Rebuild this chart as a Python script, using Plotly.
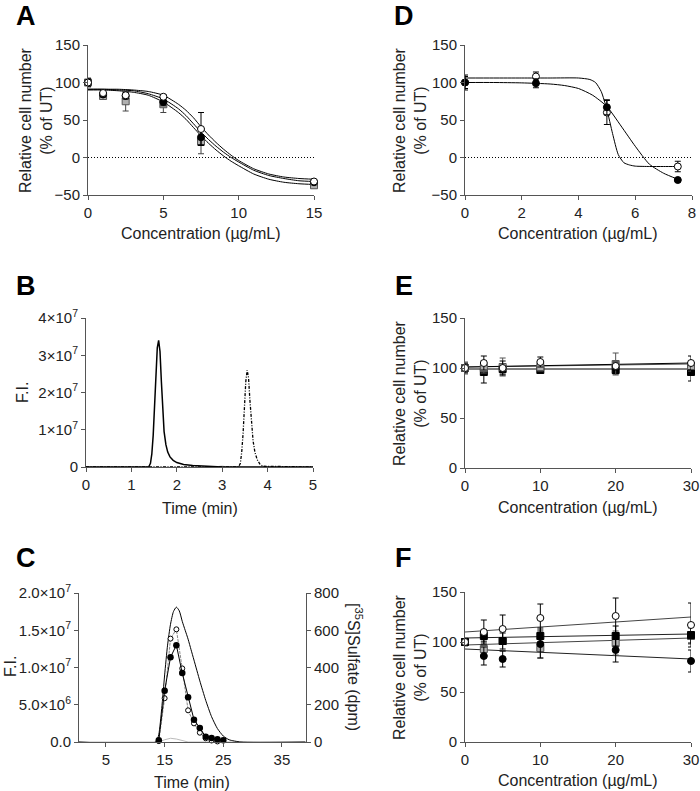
import plotly.graph_objects as go

W, H = 700, 791
FONT = "Liberation Sans, Arial, sans-serif"

# ---------------- Panel A ----------------
a_conc = [0, 1, 2.5, 5, 7.5, 15]
a_black = [100, 84, 82, 74, 27, -33]
a_black_err = [5, 3, 4, 5, 10, 3]
a_open = [100, 86, 83, 81, 38, -32]
a_open_err = [4, 3, 3, 3, 22, 3]
a_gray = [100, 82, 75, 71, 21, -37]
a_gray_err = [6, 4, 13, 11, 16, 3]
a_fit_x = [0, 1, 2, 3, 4, 5, 6, 6.5, 7, 7.5, 8, 8.5, 9, 9.5, 10, 11, 12, 13, 14, 15]
a_fit_open = [91, 91, 91, 90, 88, 83, 71, 63, 53, 41, 30, 20, 11, 3, -4, -15, -22, -26, -28, -29]
a_fit_black = [91, 91, 90, 89, 85, 78, 65, 56, 45, 34, 24, 15, 7, 0, -6, -17, -24, -28, -31, -32]
a_fit_gray = [90, 90, 89, 87, 83, 74, 60, 51, 40, 29, 19, 10, 2, -5, -11, -22, -29, -33, -35, -36]

# ---------------- Panel D ----------------
d_conc = [0, 2.5, 5, 7.5]
d_black = [100, 99, 67, -30]
d_black_err = [10, 6, 10, 2]
d_open = [100, 108, 60, -12]
d_open_err = [8, 6, 16, 7]
d_fit_black_x = [0, 1, 2, 3, 3.5, 4, 4.5, 5, 5.5, 6, 6.5, 7, 7.5]
d_fit_black = [100, 100, 99.5, 98, 96, 92, 83, 68, 42, 15, -9, -21, -29]
d_fit_open_x = [0, 1, 2, 3, 4, 4.4, 4.6, 4.8, 5.0, 5.2, 5.4, 5.6, 5.8, 6.0, 6.5, 7, 7.5]
d_fit_open = [106, 106, 106, 106, 106, 104, 100, 88, 64, 32, 4, -7, -10, -11.5, -12, -12, -12]

# ---------------- Panel B ----------------
b_time1 = [0, 1.38, 1.42, 1.45, 1.48, 1.51, 1.54, 1.57, 1.60, 1.63, 1.66, 1.69, 1.72,
           1.76, 1.80, 1.85, 1.92, 2.0, 2.15, 2.35, 2.6, 3.0, 5.0]
b_fi1 = [0, 0, 0.1e7, 0.35e7, 0.85e7, 1.6e7, 2.5e7, 3.2e7, 3.4e7, 3.1e7, 2.3e7, 1.5e7, 0.95e7,
         0.6e7, 0.4e7, 0.27e7, 0.18e7, 0.12e7, 0.07e7, 0.04e7, 0.02e7, 0, 0]
b_time2 = [0, 3.36, 3.40, 3.43, 3.46, 3.49, 3.52, 3.55, 3.58, 3.61, 3.64, 3.68, 3.72, 3.77, 3.83, 3.9, 5]
b_fi2 = [0, 0, 0.1e7, 0.4e7, 0.9e7, 1.6e7, 2.3e7, 2.6e7, 2.4e7, 1.8e7, 1.2e7, 0.7e7, 0.4e7,
         0.2e7, 0.08e7, 0.02e7, 0]
b_time3 = [0, 2.25, 2.38, 2.5, 2.85, 3.0, 3.1, 5]
b_fi3 = [0, 0, 0.05e7, 0, 0, 0.03e7, 0, 0]

# ---------------- Panel C ----------------
c_time = [0.4, 13.5, 14.0, 14.5, 15, 15.5, 16, 16.5, 17, 17.5, 18, 18.5, 19, 19.5, 20,
          21, 22, 23, 24, 25, 26, 28, 39]
c_fi = [0, 0, 0.1e7, 0.45e7, 0.9e7, 1.3e7, 1.58e7, 1.75e7, 1.81e7, 1.76e7, 1.62e7, 1.5e7,
        1.38e7, 1.24e7, 1.1e7, 0.82e7, 0.56e7, 0.34e7, 0.18e7, 0.08e7, 0.03e7, 0, 0]
c_time_faint = [0.4, 14, 15, 16, 17, 18, 19, 39]
c_fi_faint = [0, 0, 0.03e7, 0.05e7, 0.04e7, 0.02e7, 0, 0]
c_frac_filled = [14, 15, 16, 17, 18, 19, 20, 21, 22, 23, 24, 25]
c_dpm_filled = [10, 275, 455, 520, 370, 240, 120, 75, 28, 22, 15, 10]
c_frac_open = [14, 15, 16, 17, 18, 19, 20, 21, 22, 23, 24]
c_dpm_open = [5, 235, 555, 605, 395, 170, 100, 50, 20, 8, 3]

# ---------------- Panel E ----------------
e_conc = [0, 2.5, 5, 10, 20, 30]
e_open = [100, 105, 100, 106, 102, 105]
e_open_err = [4, 7, 7, 5, 4, 7]
e_bsq = [100, 96, 99, 98, 98, 96]
e_bsq_err = [5, 11, 5, 3, 4, 9]
e_gsq = [100, 100, 101, 101, 104, 102]
e_gsq_err = [6, 5, 9, 4, 11, 5]
e_fit_x = [0, 30]
e_fit_open = [101, 105]
e_fit_gray = [101, 104]
e_fit_black = [99, 99]

# ---------------- Panel F ----------------
f_conc = [0, 2.5, 5, 10, 20, 30]
f_open = [100, 110, 113, 124, 126, 117]
f_open_err = [3, 12, 14, 14, 18, 22]
f_bsq = [100, 106, 101, 106, 106, 107]
f_bsq_err = [3, 6, 8, 8, 10, 8]
f_gsq = [100, 93, 101, 94, 99, 106]
f_gsq_err = [4, 8, 10, 10, 12, 8]
f_bci = [100, 86, 83, 98, 92, 81]
f_bci_err = [3, 9, 8, 14, 12, 11]
f_fit_x = [0, 30]
f_fit_open = [110, 125]
f_fit_bsq = [104, 108]
f_fit_gsq = [97, 104]
f_fit_bci = [93, 83]


def xd(x0, x1):
    return [x0 / W, x1 / W]


def yd(top, bottom):
    return [1 - bottom / H, 1 - top / H]


fig = go.Figure()

BLACK_M = dict(color="black", size=7, line=dict(color="black", width=1), symbol="circle")
OPEN_M = dict(color="white", size=7, line=dict(color="black", width=1), symbol="circle")
GRAY_M = dict(color="#b0b0b0", size=7, line=dict(color="#555555", width=1), symbol="square")
BSQ_M = dict(color="black", size=7, line=dict(color="black", width=1), symbol="square")


def line(x, y, xa, ya, color="black", width=1, dash="solid", shape="spline"):
    fig.add_trace(go.Scatter(x=x, y=y, mode="lines", xaxis=xa, yaxis=ya,
                             line=dict(color=color, width=width, dash=dash, shape=shape,
                                       smoothing=0.6 if shape == "spline" else None),
                             showlegend=False, hoverinfo="skip", cliponaxis=False))


def pts(x, y, err, xa, ya, marker, ecolor="black"):
    fig.add_trace(go.Scatter(x=x, y=y, mode="markers", xaxis=xa, yaxis=ya, marker=marker,
                             error_y=dict(type="data", array=err, visible=True, thickness=1,
                                          width=3, color=ecolor) if err is not None else None,
                             showlegend=False, cliponaxis=False))


# Panel A (x, y)
line(a_fit_x, a_fit_open, "x", "y")
line(a_fit_x, a_fit_black, "x", "y")
line(a_fit_x, a_fit_gray, "x", "y")
pts(a_conc, a_gray, a_gray_err, "x", "y", GRAY_M, "#444444")
pts(a_conc, a_black, a_black_err, "x", "y", BLACK_M)
pts(a_conc, a_open, a_open_err, "x", "y", OPEN_M)

# Panel D (x2, y2)
line(d_fit_black_x, d_fit_black, "x2", "y2")
line(d_fit_open_x, d_fit_open, "x2", "y2")
pts(d_conc, d_open, d_open_err, "x2", "y2", OPEN_M)
pts(d_conc, d_black, d_black_err, "x2", "y2", BLACK_M)

# Panel B (x3, y3)
line(b_time3, b_fi3, "x3", "y3", color="#cccccc", width=1, shape="linear")
line(b_time2, b_fi2, "x3", "y3", color="black", width=1.3, dash="3px,1.5px,1px,1.5px", shape="linear")
line(b_time1, b_fi1, "x3", "y3", color="black", width=1.5, shape="linear")

# Panel E (x4, y4)
line(e_fit_x, e_fit_black, "x4", "y4", shape="linear")
line(e_fit_x, e_fit_gray, "x4", "y4", color="#555555", shape="linear")
line(e_fit_x, e_fit_open, "x4", "y4", shape="linear")
pts(e_conc, e_bsq, e_bsq_err, "x4", "y4", BSQ_M)
pts(e_conc, e_gsq, e_gsq_err, "x4", "y4", GRAY_M, "#555555")
pts(e_conc, e_open, e_open_err, "x4", "y4", OPEN_M)

# Panel C (x5, y5 left, y6 right)
line(c_time_faint, c_fi_faint, "x5", "y5", color="#bbbbbb", width=1, shape="linear")
line(c_time, c_fi, "x5", "y5", color="black", width=1, shape="spline")
fig.add_trace(go.Scatter(x=c_frac_open, y=c_dpm_open, mode="lines+markers", xaxis="x5", yaxis="y6",
                         line=dict(color="#888888", width=1, dash="3px,1px"),
                         marker=dict(color="white", size=5, line=dict(color="black", width=1)),
                         showlegend=False, cliponaxis=False))
fig.add_trace(go.Scatter(x=c_frac_filled, y=c_dpm_filled, mode="lines+markers", xaxis="x5", yaxis="y6",
                         line=dict(color="black", width=1),
                         marker=dict(color="black", size=6.5),
                         showlegend=False, cliponaxis=False))

# Panel F (x6, y7)
line(f_fit_x, f_fit_open, "x6", "y7", color="#444444", shape="linear")
line(f_fit_x, f_fit_bsq, "x6", "y7", color="#222222", shape="linear")
line(f_fit_x, f_fit_gsq, "x6", "y7", color="#444444", shape="linear")
line(f_fit_x, f_fit_bci, "x6", "y7", color="#222222", shape="linear")
pts(f_conc, f_gsq, f_gsq_err, "x6", "y7", GRAY_M, "#555555")
pts(f_conc, f_bsq, f_bsq_err, "x6", "y7", BSQ_M)
pts(f_conc, f_bci, f_bci_err, "x6", "y7", BLACK_M)
pts(f_conc, f_open, f_open_err, "x6", "y7", OPEN_M)

AX = dict(showline=True, linecolor="#555555", linewidth=1, ticks="outside", ticklen=4,
          tickcolor="#555555", tickwidth=1, showgrid=False, zeroline=False, automargin=False,
          tickfont=dict(family=FONT, size=15, color="#222222"))

sup7 = "×10<sup>7</sup>"
fig.update_layout(
    width=W, height=H, margin=dict(l=0, r=0, t=0, b=0),
    paper_bgcolor="white", plot_bgcolor="white",
    font=dict(family=FONT, color="#222222"),
    xaxis=dict(AX, domain=xd(88, 314), anchor="y", range=[0, 15], tickvals=[0, 5, 10, 15]),
    yaxis=dict(AX, domain=yd(45, 195), anchor="x", range=[-50, 150], tickvals=[-50, 0, 50, 100, 150]),
    xaxis2=dict(AX, domain=xd(465, 692), anchor="y2", range=[0, 8], tickvals=[0, 2, 4, 6, 8]),
    yaxis2=dict(AX, domain=yd(45, 195), anchor="x2", range=[-50, 150], tickvals=[-50, 0, 50, 100, 150]),
    xaxis3=dict(AX, domain=xd(86, 313), anchor="y3", range=[0, 5], tickvals=[0, 1, 2, 3, 4, 5]),
    yaxis3=dict(AX, domain=yd(318, 467), anchor="x3", range=[0, 4e7],
                tickvals=[0, 1e7, 2e7, 3e7, 4e7],
                ticktext=["0", "1" + sup7, "2" + sup7, "3" + sup7, "4" + sup7]),
    xaxis4=dict(AX, domain=xd(465, 691), anchor="y4", range=[0, 30], tickvals=[0, 10, 20, 30]),
    yaxis4=dict(AX, domain=yd(318, 468), anchor="x4", range=[0, 150], tickvals=[0, 50, 100, 150]),
    xaxis5=dict(AX, domain=xd(79, 306), anchor="y5", range=[0.4, 39.1], tickvals=[5, 15, 25, 35]),
    yaxis5=dict(AX, domain=yd(593, 742), anchor="x5", range=[0, 2e7],
                tickvals=[0, 5e6, 1e7, 1.5e7, 2e7],
                ticktext=["0.0", "5.0×10<sup>6</sup>", "1.0" + sup7, "1.5" + sup7, "2.0" + sup7]),
    yaxis6=dict(AX, overlaying="y5", anchor="x5", side="right", range=[0, 800],
                tickvals=[0, 200, 400, 600, 800]),
    xaxis6=dict(AX, domain=xd(465, 691), anchor="y7", range=[0, 30], tickvals=[0, 10, 20, 30]),
    yaxis7=dict(AX, domain=yd(592, 742), anchor="x6", range=[0, 150], tickvals=[0, 50, 100, 150]),
)

# dotted zero lines
fig.add_shape(type="line", xref="x", yref="y", x0=0, x1=15, y0=0, y1=0,
              line=dict(color="black", width=1, dash="1px,2px"))
fig.add_shape(type="line", xref="x2", yref="y2", x0=0, x1=8, y0=0, y1=0,
              line=dict(color="black", width=1, dash="1px,2px"))


def ann(text, px, py, size=16, angle=0, bold=False):
    fig.add_annotation(text=("<b>%s</b>" % text) if bold else text, x=px / W, y=1 - py / H,
                       xref="paper", yref="paper", showarrow=False, textangle=angle,
                       xanchor="center", yanchor="middle",
                       font=dict(family=FONT, size=size, color="#222222" if not bold else "black"))


# panel letters
for letter, px, py in [("A", 26, 16), ("B", 26, 286), ("C", 26, 558),
                       ("D", 404, 16), ("E", 404, 286), ("F", 403, 558)]:
    ann(letter, px, py, size=27, bold=True)

YT = "Relative cell number<br>(% of UT)"
ann(YT, 36, 120, angle=-90)
ann(YT, 410, 120, angle=-90)
ann(YT, 410, 393, angle=-90)
ann(YT, 410, 667, angle=-90)

XT = "Concentration (µg/mL)"
ann(XT, 201, 233)
ann(XT, 578, 233)
ann(XT, 578, 507)
ann(XT, 578, 780)
ann("Time (min)", 200, 508)
ann("Time (min)", 192, 782)

ann("F.I.", 22, 393, angle=-90)
ann("F.I.", 10, 667, angle=-90)
ann("[<sup>35</sup>S]Sulfate (dpm)", 355, 667, angle=90)

fig.write_html("out.html", config={"displayModeBar": False},
               post_script="document.body.style.margin='0';document.body.style.padding='0';"
                           "document.body.style.overflow='hidden';")
